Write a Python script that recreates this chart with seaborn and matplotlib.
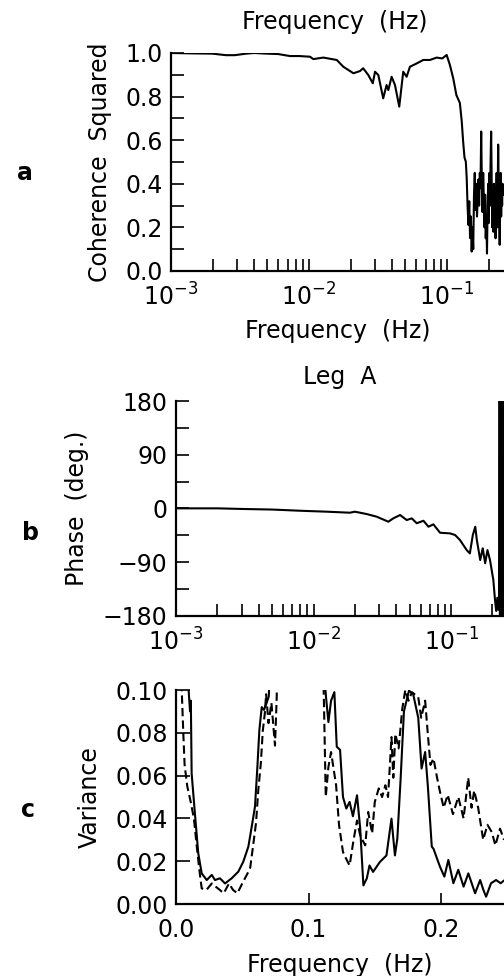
import numpy as np
import pandas as pd
import matplotlib
matplotlib.use("Agg")
import matplotlib.pyplot as plt
import seaborn as sns
from matplotlib.ticker import LogLocator, NullFormatter, FixedLocator

sns.set_style("ticks")
plt.rcParams['font.family'] = ['DejaVu Sans']
plt.rcParams['axes.linewidth'] = 1.5
for key in ('text.color', 'axes.labelcolor', 'xtick.color', 'ytick.color', 'axes.edgecolor'):
    plt.rcParams[key] = 'black'

# ---------------- Panel a: coherence squared ----------------
coh_freq = [0.001, 0.0015, 0.002, 0.0025, 0.0029, 0.0035, 0.004, 0.005, 0.006,
            0.00728, 0.0085, 0.01017, 0.01074, 0.0127, 0.0159, 0.01774, 0.021,
            0.0234, 0.0247, 0.0269, 0.029, 0.0301, 0.0318, 0.0345, 0.0365,
            0.0376, 0.0397, 0.042, 0.0451, 0.0482, 0.051, 0.0539, 0.0603,
            0.0673, 0.0753, 0.0842, 0.0925, 0.0995, 0.105, 0.111, 0.117, 0.124,
            0.128, 0.131, 0.134, 0.137, 0.139, 0.141, 0.143, 0.145, 0.147,
            0.149, 0.151, 0.153, 0.155, 0.157, 0.159, 0.161, 0.163, 0.165,
            0.167, 0.169, 0.171, 0.173, 0.175, 0.177, 0.179, 0.181, 0.183,
            0.185, 0.187, 0.189, 0.191, 0.193, 0.195, 0.197, 0.199, 0.201,
            0.203, 0.205, 0.207, 0.209, 0.211, 0.213, 0.215, 0.217, 0.219,
            0.221, 0.223, 0.225, 0.227, 0.229, 0.231, 0.233, 0.235, 0.237,
            0.239, 0.241, 0.243, 0.245, 0.247, 0.249, 0.251, 0.253, 0.256]
coh_vals = [1.0, 0.998, 0.997, 0.99, 0.99, 0.997, 1.0, 0.997, 0.995,
            0.986, 0.986, 0.983, 0.972, 0.979, 0.968, 0.937, 0.907,
            0.917, 0.93, 0.899, 0.861, 0.914, 0.899, 0.792, 0.853,
            0.83, 0.891, 0.853, 0.754, 0.914, 0.891, 0.937, 0.952,
            0.968, 0.968, 0.979, 0.975, 0.991, 0.945, 0.884, 0.807, 0.771,
            0.685, 0.593, 0.52, 0.501, 0.426, 0.30, 0.211, 0.32, 0.151,
            0.25, 0.089, 0.20, 0.10, 0.35, 0.45, 0.28, 0.40, 0.25,
            0.33, 0.42, 0.30, 0.45, 0.38, 0.64, 0.40, 0.27, 0.45,
            0.33, 0.20, 0.35, 0.15, 0.25, 0.08, 0.30, 0.40, 0.22,
            0.45, 0.30, 0.50, 0.64, 0.40, 0.20, 0.35, 0.18, 0.40,
            0.28, 0.35, 0.15, 0.30, 0.45, 0.20, 0.35, 0.58, 0.40,
            0.25, 0.12, 0.30, 0.45, 0.25, 0.38, 0.30, 0.40, 0.35]

# ---------------- Panel b: phase ----------------
ph_freq = [0.001, 0.002, 0.003, 0.005, 0.00798, 0.01247, 0.0184, 0.020,
           0.0244, 0.0288, 0.0350, 0.0380, 0.0426, 0.0476, 0.0518, 0.0563,
           0.0630, 0.0685, 0.0744, 0.0832, 0.0984, 0.107, 0.116, 0.130,
           0.137, 0.144, 0.150, 0.154, 0.163, 0.170, 0.177, 0.184, 0.192,
           0.203, 0.209, 0.213, 0.217, 0.221, 0.224,
           0.2255, 0.2268, 0.228, 0.2292, 0.2304, 0.2316, 0.2328, 0.234,
           0.2352, 0.2364, 0.2376, 0.2388, 0.240, 0.2412, 0.2424]
ph_vals = [0.0, 0.0, -1.0, -2.0, -4.0, -5.6, -7.3, -5.6,
           -9.6, -14.0, -22.4, -16.8, -11.2, -19.6, -16.8, -25.0,
           -20.8, -30.8, -26.8, -40.9, -42.0, -44.7, -53.0, -70.0,
           -75.5, -44.7, -30.8, -53.0, -86.7, -67.0, -92.0, -70.0, -86.7,
           -120.0, -155.0, -172.0, -150.0, -170.0, -140.0,
           180.0, -178.0, 180.0, -178.0, 180.0, -178.0, 180.0, -178.0,
           180.0, -178.0, 180.0, -178.0, 180.0, -178.0, 180.0]

# ---------------- Panel c: variance spectra ----------------
var_solid_f = [0.002, 0.008, 0.0095, 0.0106, 0.0112, 0.0118, 0.0143, 0.0168,
               0.0194, 0.0232, 0.027, 0.0294, 0.0332, 0.037, 0.042, 0.047,
               0.0508, 0.0546, 0.0571, 0.0596, 0.0614, 0.0629, 0.0647, 0.0664,
               0.0684, 0.070, 0.080, 0.095, 0.108, 0.113, 0.115, 0.117, 0.1195,
               0.1213, 0.1238, 0.126, 0.1285, 0.131, 0.1335, 0.1366, 0.139,
               0.1414, 0.144, 0.146, 0.1487, 0.1538, 0.1588, 0.1626, 0.164,
               0.1652, 0.167, 0.1695, 0.172, 0.1758, 0.179, 0.1828, 0.1853,
               0.188, 0.190, 0.193, 0.1943, 0.1992, 0.2025, 0.2055, 0.2093,
               0.213, 0.217, 0.2206, 0.2257, 0.2295, 0.232, 0.234, 0.2377,
               0.2415, 0.245, 0.2475]
var_solid_v = [0.30, 0.12, 0.10, 0.090, 0.095, 0.061, 0.042, 0.0237,
               0.0143, 0.0112, 0.0136, 0.0112, 0.012, 0.0096, 0.012, 0.0151,
               0.0198, 0.0268, 0.036, 0.0455, 0.064, 0.0813, 0.092, 0.0907,
               0.094, 0.097, 0.25, 0.50, 0.15, 0.098, 0.085, 0.095, 0.099,
               0.0735, 0.072, 0.050, 0.0446, 0.0477, 0.041, 0.0508, 0.0352,
               0.0087, 0.012, 0.018, 0.015, 0.0196, 0.0227, 0.0399, 0.0305,
               0.0227, 0.0305, 0.0586, 0.090, 0.0997, 0.098, 0.087, 0.0633,
               0.071, 0.0555, 0.0268, 0.0258, 0.0174, 0.0128, 0.0206, 0.0097,
               0.016, 0.0081, 0.0143, 0.0050, 0.0112, 0.0065, 0.0034, 0.0097,
               0.0112, 0.0097, 0.011]
var_dash_f = [0.002, 0.003, 0.0045, 0.0055, 0.0065, 0.0085, 0.011, 0.0135,
              0.016, 0.018, 0.0194, 0.023, 0.027, 0.033, 0.036, 0.040, 0.043,
              0.0463, 0.050, 0.054, 0.056, 0.0584, 0.0604, 0.0621, 0.064,
              0.0655, 0.067, 0.068, 0.0698, 0.072, 0.0747, 0.076, 0.080, 0.095,
              0.108, 0.1117, 0.113, 0.115, 0.117, 0.1208, 0.123, 0.126, 0.1285,
              0.131, 0.134, 0.1366, 0.139, 0.1428, 0.145, 0.148, 0.150, 0.153,
              0.1555, 0.158, 0.160, 0.1626, 0.164, 0.1655, 0.168, 0.1707, 0.173,
              0.1755, 0.178, 0.1828, 0.185, 0.188, 0.190, 0.192, 0.1943, 0.197,
              0.199, 0.202, 0.205, 0.209, 0.213, 0.217, 0.2205, 0.223, 0.225,
              0.228, 0.2318, 0.235, 0.2383, 0.241, 0.2445, 0.2475]
var_dash_v = [0.15, 0.12, 0.097, 0.080, 0.065, 0.055, 0.048, 0.040,
              0.025, 0.014, 0.0073, 0.0066, 0.0096, 0.0066, 0.005, 0.0096, 0.0066,
              0.005, 0.0096, 0.0143, 0.017, 0.0283, 0.038, 0.0533, 0.0657,
              0.081, 0.089, 0.098, 0.0845, 0.094, 0.074, 0.0967, 0.30, 0.60,
              0.20, 0.092, 0.050, 0.064, 0.071, 0.0555, 0.037, 0.0243, 0.021,
              0.018, 0.030, 0.039, 0.032, 0.0274, 0.043, 0.033, 0.0477, 0.054,
              0.050, 0.0555, 0.050, 0.078, 0.059, 0.0795, 0.0727, 0.091, 0.100,
              0.095, 0.099, 0.0967, 0.087, 0.095, 0.0795, 0.065, 0.068, 0.059,
              0.053, 0.045, 0.051, 0.042, 0.050, 0.040, 0.059, 0.045, 0.053,
              0.045, 0.030, 0.037, 0.0336, 0.0274, 0.0352, 0.030]

W, H = 504, 976
fig = plt.figure(figsize=(W / 100, H / 100), dpi=100)


def pos(left, top, right, bottom):
    return [left / W, 1 - bottom / H, (right - left) / W, (bottom - top) / H]


ax_a = fig.add_axes(pos(171, 53, 504, 271))
ax_b = fig.add_axes(pos(176, 401, 504, 615.7))
ax_c = fig.add_axes(pos(176, 690, 504, 904))

FS = 17
LW = 1.5
for ax in (ax_a, ax_b, ax_c):
    ax.spines['top'].set_visible(False)
    ax.spines['right'].set_visible(False)
    ax.spines['left'].set_linewidth(1.6)
    ax.spines['bottom'].set_linewidth(1.6)
    ax.tick_params(axis='both', which='both', direction='in', width=1.2,
                   length=9, labelsize=FS, color='black', labelcolor='black')

# Panel a
df_a = pd.DataFrame({'f': coh_freq, 'c': coh_vals})
sns.lineplot(data=df_a, x='f', y='c', ax=ax_a, color='black', lw=LW,
             estimator=None, sort=False)
ax_a.set_xscale('log')
ax_a.set_xlim(1e-3, 0.259)
ax_a.set_ylim(0, 1.0)
ax_a.yaxis.set_major_locator(FixedLocator([0, 0.2, 0.4, 0.6, 0.8, 1.0]))
ax_a.yaxis.set_minor_locator(FixedLocator([0.1, 0.3, 0.5, 0.7, 0.9]))
ax_a.set_yticklabels(['0.0', '0.2', '0.4', '0.6', '0.8', '1.0'])
ax_a.xaxis.set_major_locator(LogLocator(base=10, numticks=10))
ax_a.xaxis.set_minor_locator(LogLocator(base=10, subs=np.arange(2, 10), numticks=20))
ax_a.xaxis.set_minor_formatter(NullFormatter())
ax_a.tick_params(axis='x', which='both', pad=9)
ax_a.tick_params(axis='y', which='both', pad=6)
ax_a.set_xlabel('Frequency  (Hz)', fontsize=FS, labelpad=6)
ax_a.set_ylabel('Coherence  Squared', fontsize=FS, va='center')
ax_a.yaxis.set_label_coords((100 - 171) / 333, 0.5)

# Panel b
df_b = pd.DataFrame({'f': ph_freq, 'p': ph_vals})
sns.lineplot(data=df_b, x='f', y='p', ax=ax_b, color='black', lw=LW,
             estimator=None, sort=False)
ax_b.set_xscale('log')
ax_b.set_xlim(1e-3, 0.2427)
ax_b.set_ylim(-180, 180)
ax_b.yaxis.set_major_locator(FixedLocator([-180, -90, 0, 90, 180]))
ax_b.yaxis.set_minor_locator(FixedLocator([-135, -45, 45, 135]))
ax_b.xaxis.set_major_locator(LogLocator(base=10, numticks=10))
ax_b.xaxis.set_minor_locator(LogLocator(base=10, subs=np.arange(2, 10), numticks=20))
ax_b.xaxis.set_minor_formatter(NullFormatter())
ax_b.tick_params(axis='x', which='both', pad=9)
ax_b.tick_params(axis='y', which='both', pad=6)
ax_b.set_xlabel('')
ax_b.set_ylabel('Phase  (deg.)', fontsize=FS, va='center')
ax_b.yaxis.set_label_coords((77 - 176) / 328, 0.5)
ax_b.set_title('Leg  A', fontsize=FS, pad=12, color='black')

# Panel c
df_c = pd.concat([
    pd.DataFrame({'f': var_solid_f, 'v': var_solid_v, 'leg': 'solid'}),
    pd.DataFrame({'f': var_dash_f, 'v': var_dash_v, 'leg': 'dashed'}),
], ignore_index=True)
sns.lineplot(data=df_c, x='f', y='v', style='leg', ax=ax_c, color='black',
             lw=LW, estimator=None, sort=False, legend=False,
             dashes={'solid': '', 'dashed': (4, 2)})
ax_c.set_xlim(0, 0.2475)
ax_c.set_ylim(0, 0.10)
ax_c.xaxis.set_major_locator(FixedLocator([0.0, 0.1, 0.2]))
ax_c.set_xticklabels(['0.0', '0.1', '0.2'])
ax_c.yaxis.set_major_locator(FixedLocator([0.0, 0.02, 0.04, 0.06, 0.08, 0.10]))
ax_c.set_yticklabels(['0.00', '0.02', '0.04', '0.06', '0.08', '0.10'])
ax_c.tick_params(axis='x', which='both', pad=10, length=8)
ax_c.tick_params(axis='y', which='both', pad=6, length=10)
ax_c.set_xlabel('Frequency  (Hz)', fontsize=FS, labelpad=8)
ax_c.set_ylabel('Variance', fontsize=FS, va='center')
ax_c.yaxis.set_label_coords((90 - 176) / 328, 0.5)

# Extra text
fig.text(335 / W, 1 - 22 / H, 'Frequency  (Hz)', fontsize=FS, ha='center', va='center')
fig.text(25 / W, 1 - 173 / H, 'a', fontsize=17, fontweight='bold', ha='center', va='center')
fig.text(30 / W, 1 - 533 / H, 'b', fontsize=17, fontweight='bold', ha='center', va='center')
fig.text(28 / W, 1 - 810 / H, 'c', fontsize=17, fontweight='bold', ha='center', va='center')

fig.savefig('out.png', dpi=100)
